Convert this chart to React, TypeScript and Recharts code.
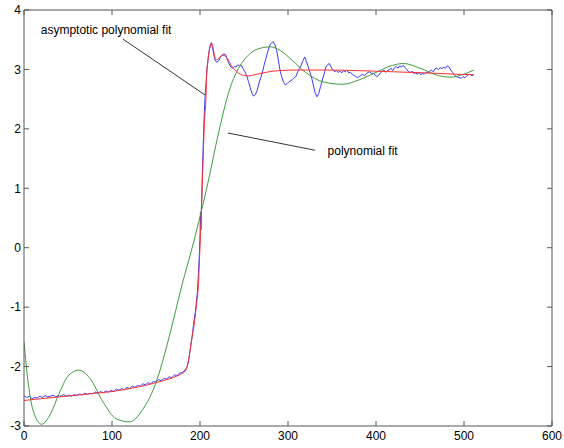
import {
  Line,
  LineChart,
  ReferenceDot,
  ReferenceLine,
  XAxis,
  YAxis,
} from "recharts";

const xTicks = [0, 100, 200, 300, 400, 500, 600];
const yTicks = [-3, -2, -1, 0, 1, 2, 3, 4];

// measured signal (blue)
const signalX = [
  0, 3, 6, 9, 12, 15, 18, 21, 24, 27, 30, 33, 36, 39, 42, 45, 48, 51, 54, 57,
  60, 63, 66, 69, 72, 75, 78, 81, 84, 87, 90, 93, 96, 99, 102, 105, 108, 111,
  114, 117, 120, 123, 126, 129, 132, 135, 138, 141, 144, 147, 150, 153, 156,
  159, 162, 165, 168, 171, 174, 177, 180, 183, 185, 187, 189, 191, 193, 195,
  197, 198, 199, 200, 200.5, 201, 202, 203, 204, 205, 206, 208, 210, 211.5,
  213, 215, 217, 219, 221, 223, 225, 227, 229, 231, 233, 235, 237, 239, 241,
  243, 245, 247, 249, 251, 253, 255, 257, 259, 261, 263, 265, 267, 269, 271,
  273, 275, 277, 279, 281, 283, 285, 287, 289, 291, 293, 295, 297, 299, 301,
  303, 305, 307, 309, 311, 313, 315, 317, 319, 321, 323, 325, 327, 329, 331,
  333, 335, 337, 339, 341, 343, 345, 347, 349, 351, 353, 355, 357, 359, 361,
  363, 365, 367, 369, 371, 373, 375, 377, 379, 381, 383, 385, 387, 389, 391,
  393, 395, 397, 399, 401, 403, 405, 407, 409, 411, 413, 415, 417, 419, 421,
  423, 425, 427, 429, 431, 433, 435, 437, 439, 441, 443, 445, 447, 449, 451,
  453, 455, 457, 459, 461, 463, 465, 467, 469, 471, 473, 475, 477, 479, 481,
  483, 485, 487, 489, 491, 493, 495, 497, 499, 501, 503, 505, 507, 509, 511,
];
const signalY = [
  -2.49, -2.52, -2.5, -2.54, -2.52, -2.53, -2.5, -2.52, -2.49, -2.51, -2.5,
  -2.48, -2.51, -2.49, -2.5, -2.47, -2.5, -2.48, -2.5, -2.47, -2.49, -2.46,
  -2.48, -2.45, -2.47, -2.45, -2.46, -2.43, -2.45, -2.42, -2.44, -2.41, -2.43,
  -2.4, -2.42, -2.38, -2.4, -2.37, -2.39, -2.35, -2.37, -2.33, -2.35, -2.32,
  -2.33, -2.29, -2.31, -2.27, -2.29, -2.25, -2.26, -2.22, -2.24, -2.2, -2.21,
  -2.17, -2.19, -2.14, -2.15, -2.11, -2.1, -2.06, -2.02, -1.9, -1.7, -1.5,
  -1.25, -1.05, -0.75, -0.5, -0.2, 0.2, 0.6, 0.3, 0.9, 1.4, 1.9, 2.3, 2.6, 3.0,
  3.28, 3.4, 3.45, 3.3, 3.16, 3.12, 3.14, 3.2, 3.24, 3.26, 3.25, 3.17, 3.1,
  3.04, 3.02, 3.05, 3.04, 3.08, 3.06, 3.07, 3.01, 2.96, 2.9, 2.8, 2.7, 2.6,
  2.55, 2.58, 2.65, 2.77, 2.86, 2.96, 3.08, 3.19, 3.3, 3.4, 3.44, 3.47, 3.42,
  3.33, 3.16, 2.98, 2.87, 2.78, 2.74, 2.76, 2.79, 2.81, 2.83, 2.86, 2.88, 2.96,
  3.02, 3.07, 3.15, 3.21, 3.13, 3.04, 2.95, 2.85, 2.72, 2.6, 2.54, 2.6, 2.71,
  2.82, 2.92, 3.04, 3.08, 3.1, 3.04, 2.99, 2.96, 2.98, 2.95, 2.97, 2.94, 2.98,
  2.96, 2.99, 2.94, 2.95, 2.92, 2.9, 2.88, 2.86, 2.88, 2.9, 2.92, 2.89, 2.93,
  2.95, 2.96, 2.93, 2.94, 2.9, 2.88, 2.9, 2.94, 2.97, 2.99, 2.95, 2.98, 2.99,
  3.02, 2.98, 3.03, 3.05, 3.02, 3.06, 3.04, 3.07, 3.03, 3.0, 2.96, 2.95, 2.97,
  2.93, 2.94, 2.92, 2.95, 2.91, 2.93, 2.92, 2.95, 2.94, 2.97, 2.99, 2.96, 3.01,
  3.02, 3.0, 3.03, 3.01, 3.04, 3.02, 3.06, 3.04, 2.99, 2.95, 2.91, 2.88, 2.87,
  2.86, 2.85, 2.88, 2.86, 2.89, 2.91, 2.92, 2.89, 2.91,
];

// asymptotic polynomial fit (red)
const asymX = [
  0, 20, 40, 60, 80, 100, 120, 140, 150, 160, 170, 178, 184, 188, 191, 194,
  196, 198, 200, 202, 203.8, 205, 206.8, 207.6, 209, 211, 213, 215, 217, 219,
  222, 226, 229, 232, 235, 238, 242, 246, 250, 255, 262, 268, 278, 290, 310,
  340, 380, 420, 460, 490, 511,
];
const asymY = [
  -2.57, -2.54, -2.51, -2.48, -2.45, -2.42, -2.37, -2.31, -2.27, -2.23, -2.18,
  -2.13, -2.06, -1.8, -1.5, -1.22, -0.95, -0.66, 0.02, 0.8, 1.59, 2.1, 2.54,
  2.93, 3.15, 3.35, 3.44, 3.35, 3.2, 3.16, 3.2, 3.24, 3.22, 3.16, 3.08, 3.02,
  2.96, 2.92, 2.9, 2.89, 2.91, 2.93, 2.96, 2.98, 2.99, 2.99, 2.98, 2.96, 2.94,
  2.92, 2.91,
];

// polynomial fit (green)
const polyX = [
  0, 5, 10, 20, 30, 40, 50, 62, 75, 90, 105, 120, 135, 150, 160, 170, 180, 190,
  200, 210, 220, 234, 245, 253, 265, 280, 291, 305, 320, 340, 362, 380, 400,
  415, 431, 450, 470, 484, 500, 511,
];
const polyY = [
  -1.59, -2.3, -2.72, -2.97, -2.8, -2.45, -2.16, -2.06, -2.2, -2.6, -2.88,
  -2.93, -2.72, -2.27, -1.78, -1.2, -0.6, -0.06, 0.52, 1.16, 1.86, 2.68, 3.05,
  3.21, 3.34, 3.38, 3.32, 3.15, 2.95, 2.79, 2.75, 2.82, 2.95, 3.05, 3.1, 3.02,
  2.9, 2.87, 2.92, 2.99,
];

const annotationText = ["asymptotic polynomial fit", "polynomial fit"];
const annotationTextX = [19, 345];
const annotationTextY = [3.66, 1.64];
const annotationLineFrom = [
  [112.5, 3.51],
  [231.8, 1.93],
];
const annotationLineTo = [
  [205.7, 2.57],
  [330.7, 1.64],
];

const signal = signalX.map((x, i) => ({ x, y: signalY[i] }));
const asym = asymX.map((x, i) => ({ x, y: asymY[i] }));
const poly = polyX.map((x, i) => ({ x, y: polyY[i] }));

const font = "'Liberation Sans', Arial, sans-serif";
const axisColor = "#555";
const tickStyle = { fontSize: 12, fill: "#000", fontFamily: font };

export default function App() {
  return (
    <div style={{ position: "absolute", left: 0, top: 0, background: "#fff" }}>
      <LineChart
        width={564}
        height={448}
        margin={{ top: 9, right: 11, bottom: 0, left: 0 }}
      >
        <XAxis
          xAxisId="b"
          dataKey="x"
          type="number"
          domain={[0, 600]}
          ticks={xTicks}
          height={22}
          tickSize={-5}
          tickMargin={10}
          stroke={axisColor}
          tick={tickStyle}
          allowDataOverflow
        />
        <XAxis
          xAxisId="t"
          orientation="top"
          dataKey="x"
          type="number"
          domain={[0, 600]}
          ticks={xTicks}
          height={1}
          tickSize={-5}
          stroke={axisColor}
          tickFormatter={() => ""}
          allowDataOverflow
        />
        <YAxis
          yAxisId="l"
          type="number"
          domain={[-3, 4]}
          ticks={yTicks}
          width={24}
          tickSize={-5}
          tickMargin={8}
          stroke={axisColor}
          tick={tickStyle}
          allowDataOverflow
        />
        <YAxis
          yAxisId="r"
          orientation="right"
          dataKey="y"
          type="number"
          domain={[-3, 4]}
          ticks={yTicks}
          width={1}
          tickSize={-5}
          stroke={axisColor}
          tickFormatter={() => ""}
          allowDataOverflow
        />
        <Line
          xAxisId="b"
          yAxisId="l"
          data={signal}
          dataKey="y"
          stroke="#3a3aff"
          strokeWidth={1}
          dot={false}
          isAnimationActive={false}
        />
        <Line
          xAxisId="b"
          yAxisId="l"
          data={poly}
          dataKey="y"
          type="monotone"
          stroke="#3d9e3d"
          strokeWidth={1}
          dot={false}
          isAnimationActive={false}
        />
        <Line
          xAxisId="t"
          yAxisId="r"
          data={asym}
          dataKey="y"
          type="monotone"
          stroke="#ff3030"
          strokeWidth={1}
          dot={false}
          isAnimationActive={false}
        />
        {annotationLineFrom.map((p, i) => (
          <ReferenceLine
            key={"l" + i}
            xAxisId="b"
            yAxisId="l"
            segment={[
              { x: p[0], y: p[1] },
              { x: annotationLineTo[i][0], y: annotationLineTo[i][1] },
            ]}
            stroke="#333"
            strokeWidth={1}
          />
        ))}
        {annotationText.map((t, i) => (
          <ReferenceDot
            key={"t" + i}
            xAxisId="b"
            yAxisId="l"
            x={annotationTextX[i]}
            y={annotationTextY[i]}
            r={0}
            stroke="none"
            fill="none"
            label={{
              value: t,
              position: "right",
              offset: 0,
              fontSize: 12,
              fill: "#000",
              fontFamily: font,
            }}
          />
        ))}
      </LineChart>
    </div>
  );
}
